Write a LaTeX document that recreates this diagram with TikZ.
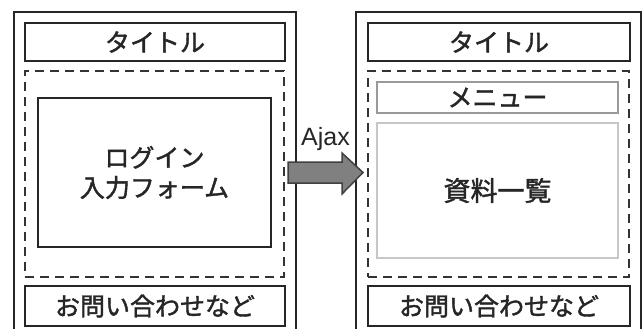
\documentclass[tikz,border=0pt]{standalone}
\usepackage{fontspec}
\setmainfont{Liberation Sans}
\newfontfamily\jp[FakeBold=1.6]{Noto Sans CJK JP}
\begin{document}
\begin{tikzpicture}[x=1pt,y=-1pt,
  frame/.style={draw=black!85,line width=2pt},
  box/.style={draw=black!85,line width=2pt,rectangle,inner sep=0pt,anchor=center,
    font=\jp\fontsize{25}{30}\selectfont,text=black!85},
  dashbox/.style={draw=black!80,line width=2pt,dash pattern=on 9pt off 6pt,rectangle,inner sep=0pt},
  softbox/.style={draw=black!40,line width=1.5pt,rectangle,inner sep=0pt,
    font=\jp\fontsize{25}{30}\selectfont,text=black!85},
  paler/.style={draw=black!22,line width=1.5pt},
  blockarrow/.style={fill=black!50,draw=black!75,line width=1.5pt,line join=miter}]
\useasboundingbox (0,0) rectangle (644,329);
% outer frames (cut by the picture's lower edge)
\draw[frame] (14,329) -- (14,12) -- (296,12) -- (296,329);
\draw[frame] (356,329) -- (356,12) -- (641,12) -- (641,329);
% left page
\node[box,minimum width=260pt,minimum height=38pt] (ltitle) at (155,42) {タイトル};
\node[dashbox,minimum width=259pt,minimum height=206pt] (ldash) at (154.5,174) {};
\node[box,minimum width=233pt,minimum height=149pt,align=center] (login) at (154.5,172.5) {ログイン\\入力フォーム};
\node[box,minimum width=260pt,minimum height=40pt] (lfoot) at (155,306) {お問い合わせなど};
% right page
\node[box,minimum width=262pt,minimum height=38pt] (rtitle) at (499,42) {タイトル};
\node[dashbox,minimum width=261pt,minimum height=206pt] (rdash) at (498.5,174) {};
\node[softbox,minimum width=241pt,minimum height=31pt] (menu) at (497.5,97.5) {メニュー};
\node[softbox,paler,minimum width=241pt,minimum height=135pt,font=\jp\fontsize{27}{30}\selectfont] (list) at (497.5,190.5) {資料一覧};
\node[box,minimum width=262pt,minimum height=40pt] (rfoot) at (499,306) {お問い合わせなど};
% Ajax arrow
\draw[blockarrow] (288,162) -- (342,162) -- (342,153) -- (363,172.5) -- (342,194) -- (342,183) -- (288,183) -- cycle;
\node[anchor=base west,inner sep=0pt,font=\fontsize{25}{30}\selectfont,text=black!85] (ajax) at (301,145) {Ajax};
\end{tikzpicture}
\end{document}
